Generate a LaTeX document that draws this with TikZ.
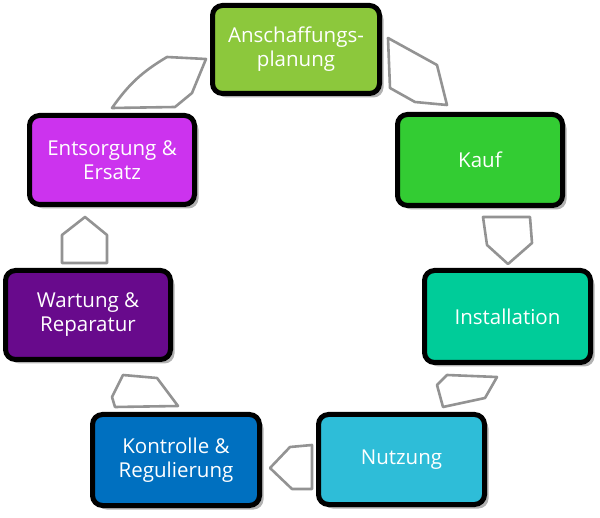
\documentclass[tikz,border=0pt]{standalone}
\usepackage{fontspec}
\setmainfont{Open Sans}
\usetikzlibrary{shadows}
\definecolor{cA}{HTML}{8CC83C}
\definecolor{cB}{HTML}{33CC33}
\definecolor{cC}{HTML}{00CC99}
\definecolor{cD}{HTML}{2EBDD8}
\definecolor{cE}{HTML}{0070C0}
\definecolor{cF}{HTML}{680A8C}
\definecolor{cG}{HTML}{CC33EE}
\definecolor{arrgray}{HTML}{939393}
\tikzset{
  stagebox/.style={draw=black, line width=5pt, rounded corners=10pt,
    minimum width=#1, align=center, text=white,
    font=\fontsize{20.5}{24}\selectfont,
    drop shadow={shadow xshift=4pt, shadow yshift=-4pt, fill=black!30, opacity=1}},
  flowarrow/.style={draw=arrgray, line width=2.6pt, fill=white, line join=round}
}
\begin{document}
\begin{tikzpicture}[x=1pt,y=-1pt]
\useasboundingbox (0,0) rectangle (600,518);
% arrows
\draw[flowarrow] (112,108) to[bend left=12] (167,57) -- (206,59) -- (192,93) -- (175,107) -- cycle;
\draw[flowarrow] (388,38) -- (437,65) -- (447,105) -- (415,102) -- (390,88) -- cycle;
\draw[flowarrow] (483,217) -- (530,217) -- (532,243) -- (508,264) -- (487,245) -- cycle;
\draw[flowarrow] (447,375) -- (497,377) -- (485,398) -- (443,407) -- (437,385) -- cycle;
\draw[flowarrow] (270,468) -- (290,447) -- (312,445) -- (312,489) -- (292,489) -- cycle;
\draw[flowarrow] (123,375) -- (157,378) -- (178,406) -- (115,407) -- (112,397) -- cycle;
\draw[flowarrow] (85,217) -- (107,235) -- (107,263) -- (62,263) -- (62,235) -- cycle;
% boxes
\node[stagebox=167pt, fill=cA, minimum height=88pt] (a) at (296,49.5) {Anschaffungs-\\planung};
\node[stagebox=165pt, fill=cB, minimum height=91pt] (b) at (480,160) {Kauf};
\node[stagebox=166pt, fill=cC, minimum height=92pt] (c) at (507.5,316.5) {Installation};
\node[stagebox=166pt, fill=cD, minimum height=90pt] (d) at (401.5,459.5) {Nutzung};
\node[stagebox=167pt, fill=cE, minimum height=91pt] (e) at (176,460) {Kontrolle \&\\Regulierung};
\node[stagebox=165pt, fill=cF, minimum height=89pt] (f) at (88,315) {Wartung \&\\Reparatur};
\node[stagebox=165pt, fill=cG, minimum height=89pt] (g) at (112,160) {Entsorgung \&\\Ersatz};
\end{tikzpicture}
\end{document}
